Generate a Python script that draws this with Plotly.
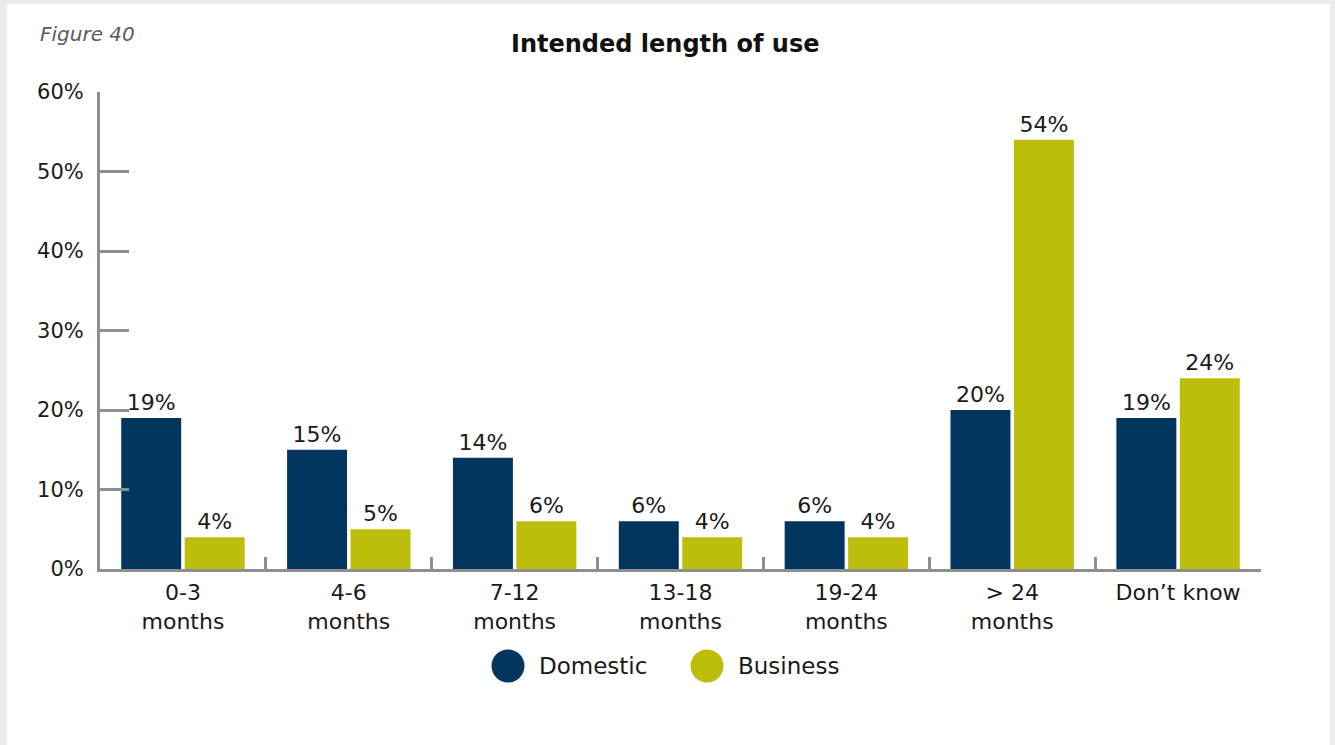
import plotly.graph_objects as go

categories = ["0-3<br>months", "4-6<br>months", "7-12<br>months", "13-18<br>months",
              "19-24<br>months", "> 24<br>months", "Don\u2019t know"]
domestic = [19, 15, 14, 6, 6, 20, 19]
business = [4, 5, 6, 4, 4, 54, 24]
y_ticks = [0, 10, 20, 30, 40, 50, 60]
y_tick_labels = [f"{v}%" for v in y_ticks]

NAVY = "#02365f"
OLIVE = "#bdbd0b"
AXIS = "#8e8e8e"
FONT = "DejaVu Sans"
TEXT = "#1a1a1a"

fig = go.Figure()
for name, vals, color in [("Domestic", domestic, NAVY), ("Business", business, OLIVE)]:
    fig.add_trace(go.Bar(
        name=name, x=categories, y=vals, marker=dict(color=color, line=dict(width=0)),
        text=[f"{v}%" for v in vals], textposition="outside", cliponaxis=False,
        textfont=dict(family=FONT, size=22, color=TEXT), showlegend=False,
    ))

fig.update_layout(
    width=1335, height=745,
    paper_bgcolor="#ebebeb", plot_bgcolor="rgba(0,0,0,0)",
    margin=dict(l=100, r=74, t=92, b=176),
    barmode="group", bargap=0.235, bargroupgap=0.055,
    font=dict(family=FONT, size=21, color=TEXT),
    uniformtext=dict(mode=False),
)
fig.update_yaxes(
    range=[0, 60], tickvals=y_ticks, ticktext=y_tick_labels,
    showgrid=False, zeroline=False, showline=True, linecolor=AXIS, linewidth=3,
    ticks="inside", ticklen=29, tickwidth=3, tickcolor=AXIS,
    ticklabelstandoff=9, tickfont=dict(family=FONT, size=21, color=TEXT),
)
fig.update_xaxes(
    showgrid=False, showline=True, linecolor=AXIS, linewidth=3,
    ticks="inside", tickson="boundaries", ticklen=12, tickwidth=3, tickcolor=AXIS,
    tickfont=dict(family=FONT, size=22, color=TEXT), ticklabelstandoff=2,
)

# white card behind the chart
fig.add_shape(type="rect", xref="paper", yref="paper", layer="below",
              x0=-93 / 1161, x1=1230 / 1161, y0=-176 / 477, y1=(477 + 88) / 477,
              fillcolor="white", line=dict(width=0))

fig.add_annotation(text="<i>Figure 40</i>", xref="paper", yref="paper",
                   x=-62 / 1161, y=(477 + 58) / 477, xanchor="left", yanchor="middle",
                   showarrow=False, font=dict(family=FONT, size=20, color="#5a5a5a"))
fig.add_annotation(text="<b>Intended length of use</b>", xref="paper", yref="paper",
                   x=(665 - 100) / 1161, y=(477 + 48) / 477, xanchor="center", yanchor="middle",
                   showarrow=False, font=dict(family=FONT, size=24, color="#111111"))

# legend: circle markers with labels
legend_items = [("Domestic", NAVY, 508), ("Business", OLIVE, 707)]
for label, color, cx in legend_items:
    r = 16.5
    cy = 666
    fig.add_shape(type="circle", xref="paper", yref="paper",
                  x0=(cx - r - 100) / 1161, x1=(cx + r - 100) / 1161,
                  y0=(569 - cy - r) / 477, y1=(569 - cy + r) / 477,
                  fillcolor=color, line=dict(width=0))
    fig.add_annotation(text=label, xref="paper", yref="paper",
                       x=(cx + 29 - 100) / 1161, y=(569 - cy) / 477,
                       xanchor="left", yanchor="middle", showarrow=False,
                       font=dict(family=FONT, size=23, color=TEXT))

fig.write_html("out.html")
